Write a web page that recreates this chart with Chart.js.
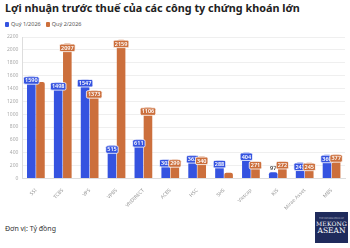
<!DOCTYPE html>
<html lang="vi">
<head>
<meta charset="utf-8">
<script src="https://cdn.jsdelivr.net/npm/chart.js@4.4.1/dist/chart.umd.min.js"></script>
<style>
  html, body { margin: 0; padding: 0; background: #fff; }
  body { width: 350px; height: 248px; position: relative; overflow: hidden; font-family: 'Noto Sans', sans-serif; }
  .title { position: absolute; left: 5px; top: 0px; font-size: 10.8px; font-weight: 700; color: #222; white-space: nowrap; }
  .legend { position: absolute; left: 5px; top: 20px; font-size: 5.5px; color: #555; display: flex; align-items: center; }
  .legend span.sw { display: inline-block; width: 4px; height: 5px; margin-right: 2px; border-radius: 1px; }
  .legend span.lb { margin-right: 5px; }
  .chart-wrap { position: absolute; left: 0; top: 30px; width: 350px; height: 185px; }
  .footer { position: absolute; left: 5px; top: 224px; font-size: 7px; color: #333; }
  .logo { position: absolute; left: 315px; top: 212px; width: 33px; height: 31px; background: #1f2b5c; color: #fff; text-align: center; font-family: 'DejaVu Serif', serif; }
  .logo .t1 { font-size: 2px; margin-top: 5px; opacity: 0.8; }
  .logo .t2 { font-size: 6px; letter-spacing: 0.2px; margin-top: 1px; line-height: 7px; }
  .logo .t3 { font-size: 7.5px; line-height: 8px; }
</style>
</head>
<body>
<div class="title">Lợi nhuận trước thuế của các công ty chứng khoán lớn</div>
<div class="legend">
  <span class="sw" style="background:#3553e0"></span><span class="lb">Quý 1/2026</span>
  <span class="sw" style="background:#cc6f3c"></span><span class="lb">Quý 2/2026</span>
</div>
<div class="chart-wrap"><canvas id="chart"></canvas></div>
<div class="footer">Đơn vị: Tỷ đồng</div>
<div class="logo"><div class="t1">THE INFORMATION OF</div><div class="t2">MEKONG</div><div class="t3">ASEAN</div></div>
<script>
// ----- Data -----
const companies = ['SSI', 'TCBS', 'VPS', 'VPBS', 'VNDIRECT', 'ACBS', 'HSC', 'SHS', 'Vietcap', 'KIS', 'Mirae Asset', 'MBS'];
const q1Values = [1590, 1498, 1547, 515, 611, 303, 363, 288, 404, 97, 247, 369];
const q2Values = [1500, 2097, 1373, 2159, 1106, 299, 340, 90, 271, 272, 245, 377];
const seriesNames = ['Quý 1/2026', 'Quý 2/2026'];
const yTicks = [0, 200, 400, 600, 800, 1000, 1200, 1400, 1600, 1800, 2000, 2200];

const BLUE = '#3553e0';
const ORANGE = '#cc6f3c';

// Value labels drawn on top of bars (no datalabels plugin available)
const barLabels = {
  id: 'barLabels',
  afterDatasetsDraw(chart) {
    const ctx = chart.ctx;
    const drawn = [];
    ctx.save();
    ctx.font = '600 5.5px "Noto Sans"';
    ctx.textAlign = 'center';
    ctx.textBaseline = 'middle';
    chart.data.datasets.forEach((ds, di) => {
      const meta = chart.getDatasetMeta(di);
      meta.data.forEach((bar, i) => {
        const v = ds.data[i];
        const txt = String(v);
        const w = ctx.measureText(txt).width + 3;
        const h = 7.5;
        const tall = (bar.base - bar.y) > 14;
        const cy = tall ? bar.y + h / 2 + 0.5 : bar.y - h / 2 - 0.5;
        const box = { x1: bar.x - w / 2, x2: bar.x + w / 2, y1: cy - h / 2, y2: cy + h / 2 };
        // hide a label that collides with a neighbour at a different height
        const clash = drawn.some(b => b.x1 < box.x2 && box.x1 < b.x2 && b.y1 < box.y2 && box.y1 < b.y2 && Math.abs(b.y1 - box.y1) > 3);
        if (clash) return;
        drawn.push(box);
        if (tall) {
          ctx.fillStyle = ds.backgroundColor;
          ctx.strokeStyle = '#fff';
          ctx.lineWidth = 0.8;
          ctx.beginPath();
          ctx.roundRect(box.x1, box.y1, w, h, 1.5);
          ctx.fill();
          ctx.stroke();
          ctx.fillStyle = '#fff';
        } else {
          ctx.fillStyle = '#333';
        }
        ctx.fillText(txt, bar.x, cy + 0.3);
      });
    });
    ctx.restore();
  }
};

const ctx = document.getElementById('chart').getContext('2d');
new Chart(ctx, {
  type: 'bar',
  data: {
    labels: companies,
    datasets: [
      { label: seriesNames[0], data: q1Values, backgroundColor: BLUE, borderRadius: { topLeft: 2, topRight: 2 }, borderSkipped: 'bottom' },
      { label: seriesNames[1], data: q2Values, backgroundColor: ORANGE, borderRadius: { topLeft: 2, topRight: 2 }, borderSkipped: 'bottom' },
    ],
  },
  options: {
    responsive: true,
    maintainAspectRatio: false,
    animation: false,
    layout: { padding: { top: 6, right: 5, left: 3, bottom: 3 } },
    datasets: { bar: { categoryPercentage: 0.68, barPercentage: 0.94 } },
    scales: {
      x: {
        grid: { display: false },
        border: { color: '#ddd' },
        ticks: {
          color: '#999',
          font: { size: 5, family: 'Noto Sans' },
          autoSkip: false,
          minRotation: 45,
          maxRotation: 45,
          padding: 1,
        },
      },
      y: {
        min: 0,
        max: 2200,
        afterBuildTicks: (axis) => { axis.ticks = yTicks.map(v => ({ value: v })); },
        grid: { color: '#ebebeb', lineWidth: 0.8, drawTicks: false },
        border: { color: '#ddd' },
        ticks: {
          color: '#aaa',
          font: { size: 5, family: 'Noto Sans' },
          padding: 4,
          callback: (v) => String(v),
        },
      },
    },
    plugins: {
      legend: { display: false },
      tooltip: { enabled: false },
    },
  },
  plugins: [barLabels],
});
</script>
</body>
</html>
